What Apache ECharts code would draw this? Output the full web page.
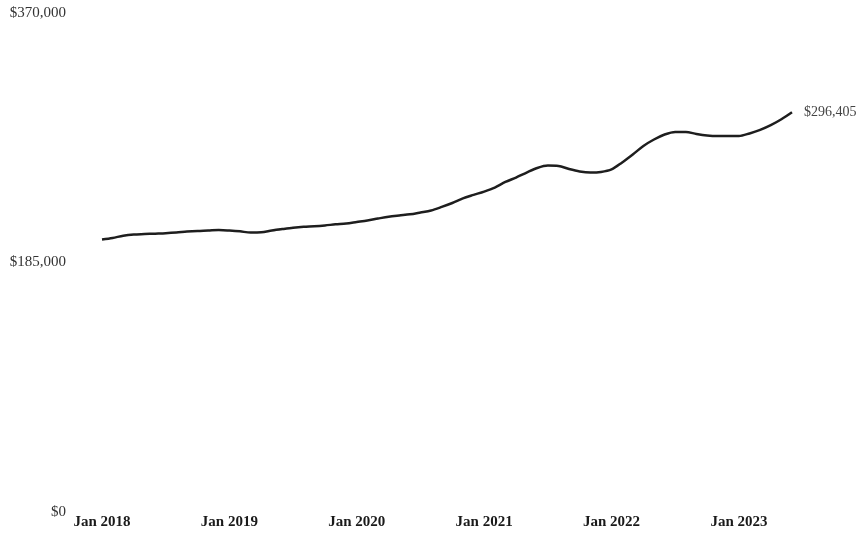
<!DOCTYPE html>
<html>
<head>
<meta charset="utf-8">
<title>Median Home Value</title>
<script src="https://cdn.jsdelivr.net/npm/echarts@6/dist/echarts.min.js"></script>
<style>
  html, body { margin: 0; padding: 0; background: #ffffff; }
  #chart { width: 865px; height: 537px; }
</style>
</head>
<body>
<div id="chart"></div>
<script>
// Monthly values, Jan 2018 through Jun 2023
const startYear = 2018;
const monthNames = ['Jan', 'Feb', 'Mar', 'Apr', 'May', 'Jun', 'Jul', 'Aug', 'Sep', 'Oct', 'Nov', 'Dec'];

const homeValues = [
  202100, 203200, 204900, 205800, 206100, 206400, 206700, 207200, 207900, 208400, 208700, 209100,
  208700, 208100, 207200, 207400, 208700, 209800, 210800, 211500, 211900, 212500, 213300, 213900,
  215000, 216100, 217600, 219000, 219900, 220700, 222100, 223600, 226200, 229100, 232500, 235100,
  237600, 240600, 244700, 248000, 251700, 255100, 256900, 256600, 254300, 252500, 251700, 252100,
  254000, 259200, 265100, 271400, 276200, 279900, 281800, 281800, 280300, 279200, 278800, 278800,
  278800, 280700, 283300, 286800, 291200, 296405
];

// Axis ticks
const yTicks = [0, 185000, 370000];
const endLabelText = '$296,405';

// Month labels along the category axis
const months = homeValues.map((_, i) =>
  monthNames[i % 12] + ' ' + (startYear + Math.floor(i / 12)));

const fmtMoney = v => '$' + Math.round(v).toLocaleString('en-US');

const chart = echarts.init(document.getElementById('chart'), null, { renderer: 'canvas' });

chart.setOption({
  backgroundColor: '#ffffff',
  animation: false,
  grid: { left: 102, right: 73, top: 13, bottom: 25, containLabel: false },
  xAxis: {
    type: 'category',
    data: months,
    boundaryGap: false,
    axisLine: { show: false },
    axisTick: { show: false },
    splitLine: { show: false },
    axisLabel: {
      interval: (idx) => idx % 12 === 0,
      margin: 3,
      fontFamily: 'Liberation Serif',
      fontSize: 15,
      fontWeight: 'bold',
      color: '#1a1a1a'
    }
  },
  yAxis: {
    type: 'value',
    min: yTicks[0],
    max: yTicks[yTicks.length - 1],
    interval: yTicks[1] - yTicks[0],
    axisLine: { show: false },
    axisTick: { show: false },
    splitLine: { show: false },
    axisLabel: {
      margin: 36,
      formatter: fmtMoney,
      fontFamily: 'Liberation Serif',
      fontSize: 15,
      color: '#333333'
    }
  },
  series: [{
    type: 'line',
    data: homeValues,
    smooth: 0.3,
    showSymbol: false,
    lineStyle: { color: '#1e1e1e', width: 2.5 },
    endLabel: {
      show: true,
      formatter: () => endLabelText,
      distance: 12,
      fontFamily: 'Liberation Serif',
      fontSize: 14,
      color: '#444444'
    }
  }]
});
</script>
</body>
</html>
